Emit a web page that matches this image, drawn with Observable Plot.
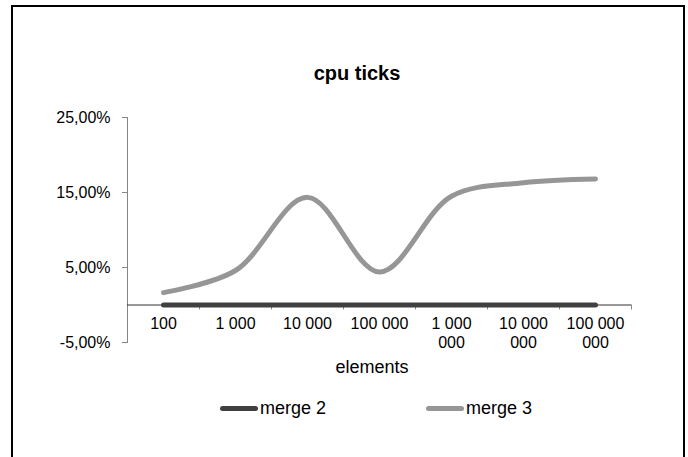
<!DOCTYPE html>
<html>
<head>
<meta charset="utf-8">
<script src="https://cdn.jsdelivr.net/npm/d3@7"></script>
<script src="https://cdn.jsdelivr.net/npm/@observablehq/plot@0.6"></script>
<style>
  html, body { margin: 0; padding: 0; background: #fff; }
  body { width: 688px; height: 457px; position: relative; overflow: hidden; font-family: "Liberation Sans", Arial, sans-serif; }
  #border { position: absolute; left: 11px; top: 5px; width: 670px; height: 470px; border: 2px solid #000; box-sizing: content-box; }
  #chart { position: absolute; left: 0; top: 0; }
  #title { position: absolute; left: 0; width: 714px; top: 62px; text-align: center; font-weight: bold; font-size: 20px; color: #000; }
  #xlabel { position: absolute; left: 0; width: 744px; top: 357px; text-align: center; font-size: 18px; color: #000; }
  .leg { position: absolute; top: 397px; height: 22px; font-size: 18px; color: #000; display: flex; align-items: center; }
  .sw { width: 38px; height: 5px; border-radius: 3px; margin-right: 2px; }
</style>
</head>
<body>
<div id="border"></div>
<div id="chart"></div>
<div id="title">cpu ticks</div>
<div id="xlabel">elements</div>
<div class="leg" style="left:220px"><div class="sw" style="background:#404040"></div><span>merge 2</span></div>
<div class="leg" style="left:426px"><div class="sw" style="background:#969696"></div><span>merge 3</span></div>
<script>
const categories = ["100", "1 000", "10 000", "100 000", "1 000 000", "10 000 000", "100 000 000"];
const tickLabels = ["100", "1 000", "10 000", "100 000", "1 000\n000", "10 000\n000", "100 000\n000"];
const merge2 = [0, 0, 0, 0, 0, 0, 0];
const merge3 = [1.65, 4.6, 14.35, 4.4, 14.5, 16.3, 16.8];
const yTicks = [-5, 5, 15, 25];
const seriesNames = ["merge 2", "merge 3"];
const seriesColors = ["#404040", "#969696"];

const data = [];
categories.forEach((c, i) => {
  data.push({cat: c, series: seriesNames[0], value: merge2[i]});
  data.push({cat: c, series: seriesNames[1], value: merge3[i]});
});
const labelData = categories.map((c, i) => ({cat: c, label: tickLabels[i]}));

const W = 688, H = 457, ML = 127, MR = 57, MT = 117, MB = 115;
const bw = (W - ML - MR) / categories.length;

const fmt = d => d.toFixed(2).replace(".", ",") + "%";

const chart = Plot.plot({
  width: W,
  height: H,
  marginLeft: ML,
  marginRight: MR,
  marginTop: MT,
  marginBottom: MB,
  style: {fontFamily: "Liberation Sans, Arial, sans-serif", fontSize: "16px", color: "#000", background: "transparent"},
  x: {type: "band", domain: categories, padding: 0, axis: null},
  y: {domain: [-5, 25], axis: null},
  color: {domain: seriesNames, range: seriesColors},
  marks: [
    Plot.axisY({ticks: yTicks, tickFormat: fmt, tickSize: 5, tickPadding: 12, stroke: "#868686", fill: "#000", fontSize: 16, label: null}),
    Plot.frame({anchor: "left", stroke: "#868686"}),
    Plot.ruleY([0], {stroke: "#303030", strokeWidth: 1}),
    Plot.ruleX(categories, {x: d => d, y1: 0, y2: 0, insetBottom: -5, dx: bw / 2, stroke: "#868686"}),
    Plot.text(labelData, {x: "cat", y: 0, text: "label", lineAnchor: "top", dy: 10, lineHeight: 1.19, fontSize: 16, fill: "#000"}),
    Plot.line(data.filter(d => d.series === "merge 3"), {x: "cat", y: "value", stroke: "series", strokeWidth: 5, curve: "catmull-rom", strokeLinecap: "round", strokeLinejoin: "round"}),
    Plot.line(data.filter(d => d.series === "merge 2"), {x: "cat", y: "value", stroke: "series", strokeWidth: 5, curve: "catmull-rom", strokeLinecap: "round"})
  ]
});
document.getElementById("chart").appendChild(chart);
</script>
</body>
</html>
